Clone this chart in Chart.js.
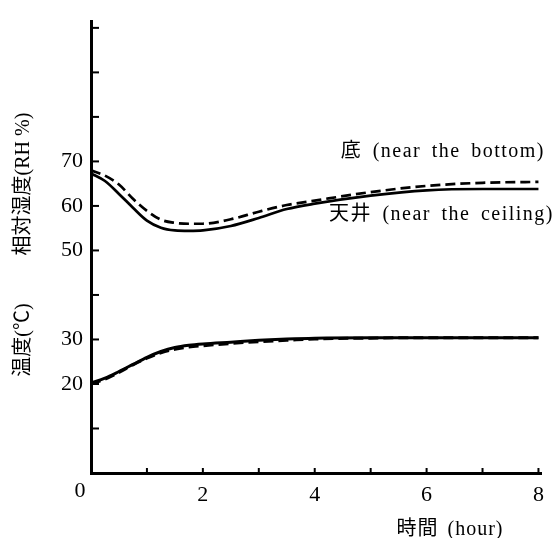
<!DOCTYPE html>
<html>
<head>
<meta charset="utf-8">
<script src="https://cdn.jsdelivr.net/npm/chart.js@4.4.1/dist/chart.umd.min.js"></script>
<style>
  body { margin: 0; background: #fff; }
  canvas { display: block; }
</style>
</head>
<body>
<canvas id="chart" width="553" height="538"></canvas>
<script>
// time axis (hours)
const hours = [0, 0.25, 0.5, 0.75, 1, 1.25, 1.5, 1.75, 2, 2.5, 3, 3.5, 4, 5, 6, 7, 8];

// relative humidity (RH %)
const rhCeiling = [67.3, 65.6, 62.7, 59.6, 56.7, 55.1, 54.5, 54.4, 54.5, 55.5, 57.3, 59.3, 60.5, 62.3, 63.5, 63.8, 63.8];
const rhBottom  = [68.0, 66.8, 64.8, 61.6, 58.9, 56.9, 56.2, 56.0, 56.0, 57.0, 58.7, 60.2, 61.2, 63.1, 64.5, 65.2, 65.4];

// temperature (°C)
const tempCeiling = [20.2, 21.3, 22.8, 24.4, 26.0, 27.3, 28.2, 28.7, 29.0, 29.4, 29.8, 30.1, 30.3, 30.4, 30.4, 30.4, 30.4];
const tempBottom  = [20.0, 21.1, 22.6, 24.3, 25.8, 27.0, 27.8, 28.3, 28.6, 29.1, 29.5, 29.8, 30.1, 30.3, 30.4, 30.4, 30.4];

// tick labels shown in the figure
const yTickLabels = [20, 30, 50, 60, 70];
const xTickLabels = [2, 4, 6, 8];

const serif = "'Liberation Serif', 'Noto Sans CJK JP', serif";

function points(ys) {
  return hours.map((h, i) => ({ x: h, y: ys[i] }));
}

function line(ys, dashed, width) {
  return {
    data: points(ys),
    borderColor: '#000',
    borderWidth: width,
    borderDash: dashed ? [10, 5] : [],
    pointRadius: 0,
    fill: false,
    cubicInterpolationMode: 'monotone'
  };
}

// inner tick marks, origin label and text annotations
const decorations = {
  id: 'decorations',
  afterDraw(chart) {
    const ctx = chart.ctx;
    const x = chart.scales.x;
    const y = chart.scales.y;
    const area = chart.chartArea;

    ctx.save();
    ctx.strokeStyle = '#000';
    ctx.lineWidth = 2;
    y.ticks.forEach(t => {
      if (t.value <= 0) return;
      const py = y.getPixelForValue(t.value);
      ctx.beginPath();
      ctx.moveTo(area.left, py);
      ctx.lineTo(area.left + 8, py);
      ctx.stroke();
    });
    x.ticks.forEach(t => {
      if (t.value <= 0) return;
      const px = x.getPixelForValue(t.value);
      ctx.beginPath();
      ctx.moveTo(px, area.bottom);
      ctx.lineTo(px, area.bottom - 5);
      ctx.stroke();
    });

    ctx.fillStyle = '#000';
    ctx.font = '22px ' + serif;
    ctx.textAlign = 'center';
    ctx.textBaseline = 'middle';
    ctx.fillText('0', x.getPixelForValue(0) - 11, 491);

    ctx.font = '20px ' + serif;
    ctx.letterSpacing = '1.5px';
    ctx.wordSpacing = '4px';
    ctx.textAlign = 'right';
    ctx.textBaseline = 'alphabetic';
    ctx.fillText('底 (near the bottom)', 545, 157);
    ctx.fillText('天井 (near the ceiling)', 554, 220);

    ctx.letterSpacing = '1px';
    ctx.wordSpacing = '3px';
    ctx.textAlign = 'center';
    ctx.fillText('時間 (hour)', 450, 535);

    ctx.letterSpacing = '0px';
    ctx.wordSpacing = '0px';
    ctx.translate(24, 0);
    ctx.rotate(-Math.PI / 2);
    ctx.font = '20px ' + serif;
    ctx.textBaseline = 'middle';
    ctx.fillText('相対湿度(RH %)', -184, 0);
    ctx.fillText('温度(℃)', -340, 0);
    ctx.restore();
  }
};

new Chart(document.getElementById('chart'), {
  type: 'line',
  data: {
    datasets: [
      line(rhBottom, true, 2.7),
      line(rhCeiling, false, 2.7),
      line(tempBottom, true, 3),
      line(tempCeiling, false, 3)
    ]
  },
  options: {
    responsive: false,
    animation: false,
    layout: { padding: { top: 14, right: 7, left: 0, bottom: 0 } },
    plugins: {
      legend: { display: false },
      tooltip: { enabled: false }
    },
    scales: {
      x: {
        type: 'linear',
        min: 0,
        max: 8.05,
        afterFit(scale) { scale.height = 65; },
        grid: { drawOnChartArea: false, drawTicks: false },
        border: { display: true, color: '#000', width: 3 },
        ticks: {
          stepSize: 1,
          includeBounds: false,
          autoSkip: false,
          maxRotation: 0,
          padding: 9,
          color: '#000',
          font: { family: serif, size: 22 },
          callback: v => xTickLabels.includes(v) ? String(v) : ''
        }
      },
      y: {
        min: 0,
        max: 101.5,
        afterFit(scale) { scale.width = 91; },
        grid: { drawOnChartArea: false, drawTicks: false },
        border: { display: true, color: '#000', width: 3 },
        ticks: {
          stepSize: 10,
          includeBounds: false,
          autoSkip: false,
          padding: 8,
          color: '#000',
          font: { family: serif, size: 22 },
          callback: v => yTickLabels.includes(v) ? String(v) : ''
        }
      }
    }
  },
  plugins: [decorations]
});
</script>
</body>
</html>
